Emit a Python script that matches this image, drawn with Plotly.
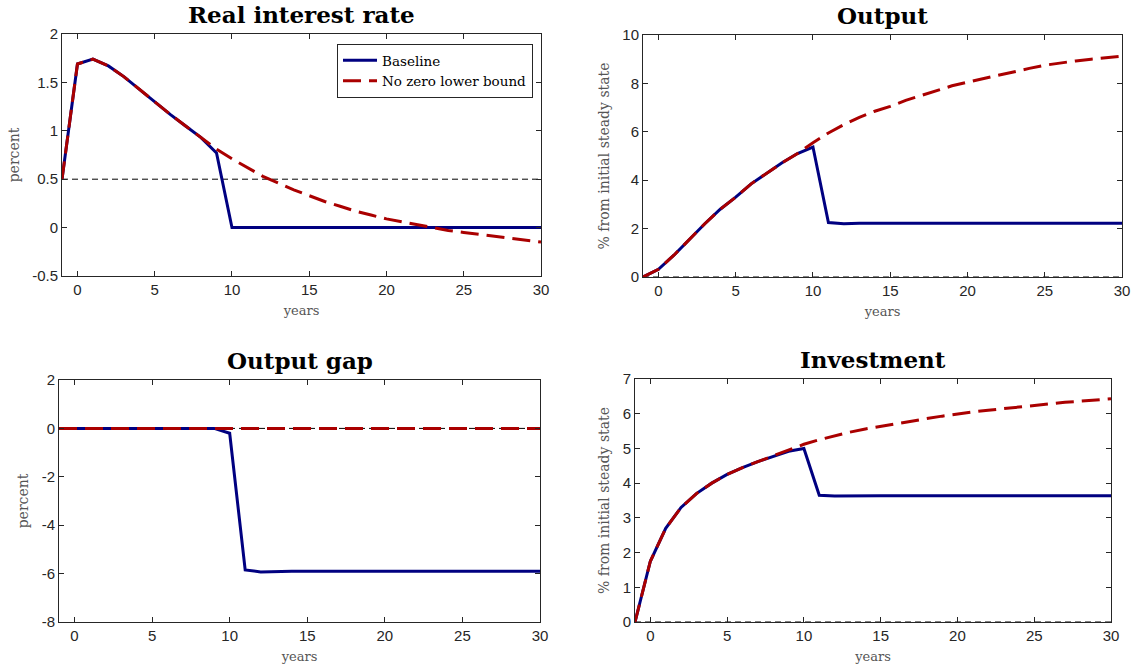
import plotly.graph_objects as go

years = list(range(-1, 31))
year_ticks = [0, 5, 10, 15, 20, 25, 30]

# Real interest rate
rate_base = [0.5, 1.69, 1.74, 1.67, 1.56, 1.43, 1.30, 1.17, 1.05, 0.93, 0.77, 0.0,
             0.0, 0.0, 0.0, 0.0, 0.0, 0.0, 0.0, 0.0, 0.0, 0.0, 0.0, 0.0, 0.0, 0.0,
             0.0, 0.0, 0.0, 0.0, 0.0, 0.0]
rate_nozlb = [0.5, 1.69, 1.74, 1.67, 1.56, 1.43, 1.30, 1.17, 1.05, 0.93, 0.81, 0.71,
              0.62, 0.53, 0.46, 0.39, 0.33, 0.27, 0.22, 0.17, 0.13, 0.09, 0.06, 0.03,
              0.0, -0.03, -0.05, -0.07, -0.09, -0.11, -0.13, -0.15]
rate_ref = 0.5
rate_ticks = [-0.5, 0, 0.5, 1, 1.5, 2]
rate_ticktext = ["-0.5", "0", "0.5", "1", "1.5", "2"]

# Output
out_base = [0.0, 0.32, 0.9, 1.55, 2.2, 2.8, 3.3, 3.85, 4.3, 4.72, 5.1, 5.37,
            2.25, 2.2, 2.22, 2.22, 2.22, 2.22, 2.22, 2.22, 2.22, 2.22, 2.22, 2.22,
            2.22, 2.22, 2.22, 2.22, 2.22, 2.22, 2.22, 2.22]
out_nozlb = [0.0, 0.32, 0.9, 1.55, 2.2, 2.8, 3.3, 3.85, 4.3, 4.72, 5.1, 5.55,
             5.95, 6.3, 6.6, 6.85, 7.05, 7.3, 7.5, 7.7, 7.9, 8.05, 8.2, 8.35,
             8.5, 8.62, 8.75, 8.85, 8.93, 9.0, 9.07, 9.12]
out_ref = 0.0
out_ticks = [0, 2, 4, 6, 8, 10]
out_ticktext = ["0", "2", "4", "6", "8", "10"]

# Output gap
gap_base = [0.0, 0.0, 0.0, 0.0, 0.0, 0.0, 0.0, 0.0, 0.0, 0.0, 0.0, -0.2,
            -5.85, -5.93, -5.9, -5.9, -5.9, -5.9, -5.9, -5.9, -5.9, -5.9, -5.9, -5.9,
            -5.9, -5.9, -5.9, -5.9, -5.9, -5.9, -5.9, -5.9]
gap_nozlb = [0.0] * 32
gap_ref = 0.0
gap_ticks = [-8, -6, -4, -2, 0, 2]
gap_ticktext = ["-8", "-6", "-4", "-2", "0", "2"]

# Investment
inv_base = [0.0, 1.75, 2.7, 3.3, 3.7, 4.0, 4.25, 4.45, 4.62, 4.78, 4.92, 5.0,
            3.65, 3.63, 3.64, 3.64, 3.64, 3.64, 3.64, 3.64, 3.64, 3.64, 3.64, 3.64,
            3.64, 3.64, 3.64, 3.64, 3.64, 3.64, 3.64, 3.64]
inv_nozlb = [0.0, 1.75, 2.7, 3.3, 3.7, 4.0, 4.25, 4.45, 4.62, 4.78, 4.95, 5.12,
             5.25, 5.37, 5.47, 5.56, 5.64, 5.72, 5.79, 5.86, 5.93, 6.0, 6.05, 6.1,
             6.15, 6.2, 6.25, 6.29, 6.33, 6.36, 6.39, 6.43]
inv_ref = 0.0
inv_ticks = [0, 1, 2, 3, 4, 5, 6, 7]
inv_ticktext = ["0", "1", "2", "3", "4", "5", "6", "7"]

W, H = 1137, 670
BLUE = "#000080"
RED = "#aa0000"
AX = "#262626"
LABEL = "#555555"

panels = [
    dict(title="Real interest rate", base=rate_base, alt=rate_nozlb, ref=rate_ref,
         yrange=[-0.5, 2], tv=rate_ticks, tt=rate_ticktext, ylabel="percent",
         px=(62, 541), py=(34, 276)),
    dict(title="Output", base=out_base, alt=out_nozlb, ref=out_ref,
         yrange=[0, 10], tv=out_ticks, tt=out_ticktext, ylabel="% from initial steady state",
         px=(643, 1122), py=(35, 277)),
    dict(title="Output gap", base=gap_base, alt=gap_nozlb, ref=gap_ref,
         yrange=[-8, 2], tv=gap_ticks, tt=gap_ticktext, ylabel="percent",
         px=(59, 540), py=(380, 622)),
    dict(title="Investment", base=inv_base, alt=inv_nozlb, ref=inv_ref,
         yrange=[0, 7], tv=inv_ticks, tt=inv_ticktext, ylabel="% from initial steady state",
         px=(635, 1111), py=(379, 622)),
]

fig = go.Figure()
layout = dict(
    width=W, height=H, margin=dict(l=0, r=0, t=0, b=0, autoexpand=False),
    paper_bgcolor="white", plot_bgcolor="white",
    font=dict(family="Liberation Sans, Arial, sans-serif", size=15, color=AX),
)
annotations = []
for i, p in enumerate(panels, start=1):
    xa = "x" if i == 1 else f"x{i}"
    ya = "y" if i == 1 else f"y{i}"
    fig.add_trace(go.Scatter(x=[years[0], years[-1]], y=[p["ref"], p["ref"]], mode="lines",
                             line=dict(color="#000000", width=1, dash="6px,4px"),
                             showlegend=False, hoverinfo="skip", xaxis=xa, yaxis=ya))
    fig.add_trace(go.Scatter(x=years, y=p["base"], mode="lines", name="Baseline",
                             line=dict(color=BLUE, width=3),
                             showlegend=(i == 1), xaxis=xa, yaxis=ya))
    fig.add_trace(go.Scatter(x=years, y=p["alt"], mode="lines", name="No zero lower bound",
                             line=dict(color=RED, width=3, dash="18px,8px"),
                             showlegend=(i == 1), xaxis=xa, yaxis=ya))
    x0, x1 = p["px"]
    y0, y1 = p["py"]
    xd = [x0 / W, x1 / W]
    yd = [1 - y1 / H, 1 - y0 / H]
    axis_common = dict(showgrid=False, zeroline=False, showline=True, linecolor=AX,
                       linewidth=1, mirror="ticks", ticks="inside", ticklen=5,
                       tickcolor=AX, tickfont=dict(size=15, color=AX), automargin=False)
    layout["xaxis" if i == 1 else f"xaxis{i}"] = dict(
        domain=xd, range=[-1, 30], tickvals=year_ticks,
        anchor=ya, title=dict(text="years", standoff=8,
                              font=dict(family="DejaVu Serif, serif", size=13, color=LABEL)),
        **axis_common)
    layout["yaxis" if i == 1 else f"yaxis{i}"] = dict(
        domain=yd, range=p["yrange"], tickvals=p["tv"], ticktext=p["tt"],
        anchor=xa, title=dict(text=p["ylabel"], standoff=9,
                              font=dict(family="DejaVu Serif, serif", size=14, color=LABEL)),
        **axis_common)
    annotations.append(dict(text=f"<b>{p['title']}</b>", xref="paper", yref="paper",
                            x=(xd[0] + xd[1]) / 2, y=yd[1], yanchor="bottom", xanchor="center",
                            yshift=4, showarrow=False,
                            font=dict(family="DejaVu Serif, serif", size=23, color="black")))

layout["annotations"] = annotations
layout["legend"] = dict(x=533 / W, y=1 - 44 / H, xanchor="right", yanchor="top",
                        bgcolor="white", bordercolor=AX, borderwidth=1,
                        font=dict(family="DejaVu Serif, serif", size=13.5, color="black"),
                        tracegroupgap=0, itemwidth=34)
fig.update_layout(**layout)
fig.write_html("out.html", config={"displayModeBar": False},
               post_script="document.body.style.margin='0';document.body.style.overflow='hidden';")
